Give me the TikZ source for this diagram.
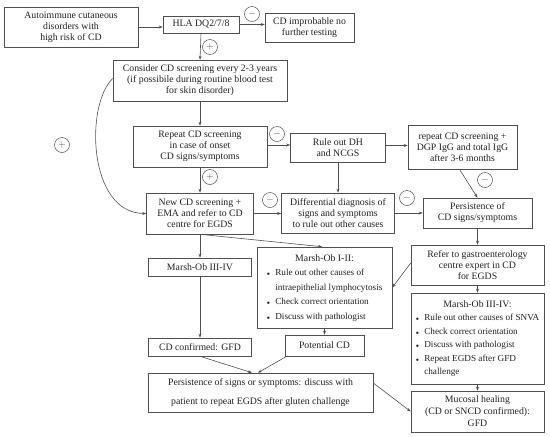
\documentclass[tikz,border=0pt]{standalone}
\usepackage{fontspec}
\setmainfont{Liberation Serif}
\usetikzlibrary{arrows.meta}
\definecolor{lc}{HTML}{505050}
\definecolor{tc}{HTML}{222222}
\newcommand{\txtmain}{\fontsize{9.8}{11}\selectfont}
\newcommand{\txtlist}{\fontsize{9.2}{10}\selectfont}
\newcommand{\bul}{$\scriptscriptstyle\bullet$}
\begin{document}
\begin{tikzpicture}[x=1pt,y=-1pt,
  box/.style={draw=lc, line width=0.6pt, text=tc, align=center, font=\txtmain, inner sep=1pt},
  arr/.style={draw=lc, line width=0.6pt, -{Stealth[length=4pt,width=3pt]}},
  sgn/.style={circle, draw=lc, line width=0.5pt, minimum size=15pt, inner sep=0pt, text=lc, font=\txtmain}]
\useasboundingbox[fill=white] (0,0) rectangle (550,437);

\node[box, minimum width=134, minimum height=40] (auto) at (71,27) {Autoimmune cutaneous\\disorders with\\high risk of CD};
\node[box, minimum width=76, minimum height=17] (hla) at (201,24.5) {HLA DQ2/7/8};
\node[box, minimum width=89, minimum height=29] (improb) at (309.5,27.5) {CD improbable no\\further testing};
\node[box, minimum width=174, minimum height=41] (consider) at (200,80.5) {Consider CD screening every 2-3 years\\(if possibile during routine blood test\\for skin disorder)};
\node[box, minimum width=134, minimum height=41] (repeat) at (200,146.5) {Repeat CD screening\\in case of onset\\CD signs/symptoms};
\node[box, minimum width=95, minimum height=29] (ruleout) at (338,147.5) {Rule out DH\\and NCGS};
\node[box, minimum width=109, minimum height=44] (dgp) at (462.5,147) {repeat CD screening +\\DGP IgG and total IgG\\after 3-6 months};
\node[box, minimum width=107, minimum height=41] (new) at (200,213.5) {New CD screening +\\EMA and refer to CD\\centre for EGDS};
\node[box, minimum width=113, minimum height=40] (diff) at (338,213) {Differential diagnosis of\\signs and symptoms\\to rule out other causes};
\node[box, minimum width=109, minimum height=30] (persist) at (477.5,213) {Persistence of\\CD signs/symptoms};
\node[box, minimum width=103, minimum height=18] (mlow) at (200,267) {Marsh-Ob III-IV};
\node[box, minimum width=135, minimum height=81] (mone) at (324.5,287.5) {\txtlist\renewcommand{\arraystretch}{1.45}%
  \begin{tabular}{@{}l@{\hspace{5pt}}l@{}}
  \multicolumn{2}{c}{\txtmain Marsh-Ob I-II:}\\
  \bul & Rule out other causes of\\
       & intraepithelial lymphocytosis\\
  \bul & Check correct orientation\\
  \bul & Discuss with pathologist
  \end{tabular}};
\node[box, minimum width=133, minimum height=40] (refer) at (477.5,265) {Refer to gastroenterology\\centre expert in CD\\for EGDS};
\node[box, minimum width=133, minimum height=91] (mhigh) at (477.5,338.5) {\txtlist\renewcommand{\arraystretch}{1.35}%
  \begin{tabular}{@{}l@{\hspace{5pt}}l@{}}
  \multicolumn{2}{c}{\txtmain Marsh-Ob III-IV:}\\
  \bul & Rule out other causes of SNVA\\
  \bul & Check correct orientation\\
  \bul & Discuss with pathologist\\
  \bul & Repeat EGDS after GFD\\
       & challenge
  \end{tabular}};
\node[box, minimum width=103, minimum height=18] (conf) at (200,347) {CD confirmed: GFD};
\node[box, minimum width=79, minimum height=21] (pot) at (324.5,345.5) {Potential CD};
\node[box, minimum width=225, minimum height=39] (psig) at (260.5,392.5) {Persistence of signs or symptoms: discuss with\\[8pt]patient to repeat EGDS after gluten challenge};
\node[box, minimum width=133, minimum height=41] (muc) at (477.5,411.5) {Mucosal healing\\[1pt](CD or SNCD confirmed):\\[1pt]GFD};

% signs
\node[sgn] (s1) at (252,14) {$-$};
\node[sgn] (s2) at (210,47) {$+$};
\node[sgn] (s3) at (62,145) {$+$};
\node[sgn] (s4) at (277,134) {$-$};
\node[sgn] (s5) at (210,177) {$+$};
\node[sgn] (s6) at (270,200) {$-$};
\node[sgn] (s7) at (407,198) {$-$};
\node[sgn] (s8) at (485,180) {$-$};

% connectors
\draw[arr] (auto.east) -- (auto.east -| hla.west);
\draw[arr] (hla.east) -- (hla.east -| improb.west);
\draw[arr] (hla.south) -- (consider.north);
\draw[arr] (consider.south) -- (repeat.north);
\draw[arr] ([yshift=2pt]consider.west) .. controls (85,105) and (88,213) .. (new.west);
\draw[arr] ([yshift=1.5pt]repeat.east) -- ([yshift=1.5pt]repeat.east -| ruleout.west);
\draw[arr] ([yshift=2pt]ruleout.east) -- ([yshift=2pt]ruleout.east -| dgp.west);
\draw[arr] (ruleout.south) -- (diff.north);
\draw[arr] ([xshift=-3pt]dgp.south) -- (persist.north);
\draw[arr] (repeat.south) -- (new.north);
\draw[arr] (new.east) -- (new.east -| diff.west);
\draw[arr] (diff.east) -- (diff.east -| persist.west);
\draw[arr] (persist.south) -- (refer.north);
\draw[arr] (new.south) -- (mlow.north);
\draw[arr] (new.south) -- ([xshift=-2.5pt]mone.north);
\draw[arr] ([yshift=2pt]refer.west) -- (mone.east);
\draw[arr] (refer.south) -- (mhigh.north);
\draw[arr] (mlow.south) -- (conf.north);
\draw[arr] (mone.south) -- (pot.north);
\draw[arr] (conf.south) -- ([xshift=-8.5pt]psig.north);
\draw[arr] ([xshift=2pt]pot.south west) -- ([xshift=-2.5pt]psig.north);
\draw[arr] (mhigh.south) -- (muc.north);
\draw[arr] ([yshift=9.5pt]psig.east) -- (muc.west);
\end{tikzpicture}
\end{document}
